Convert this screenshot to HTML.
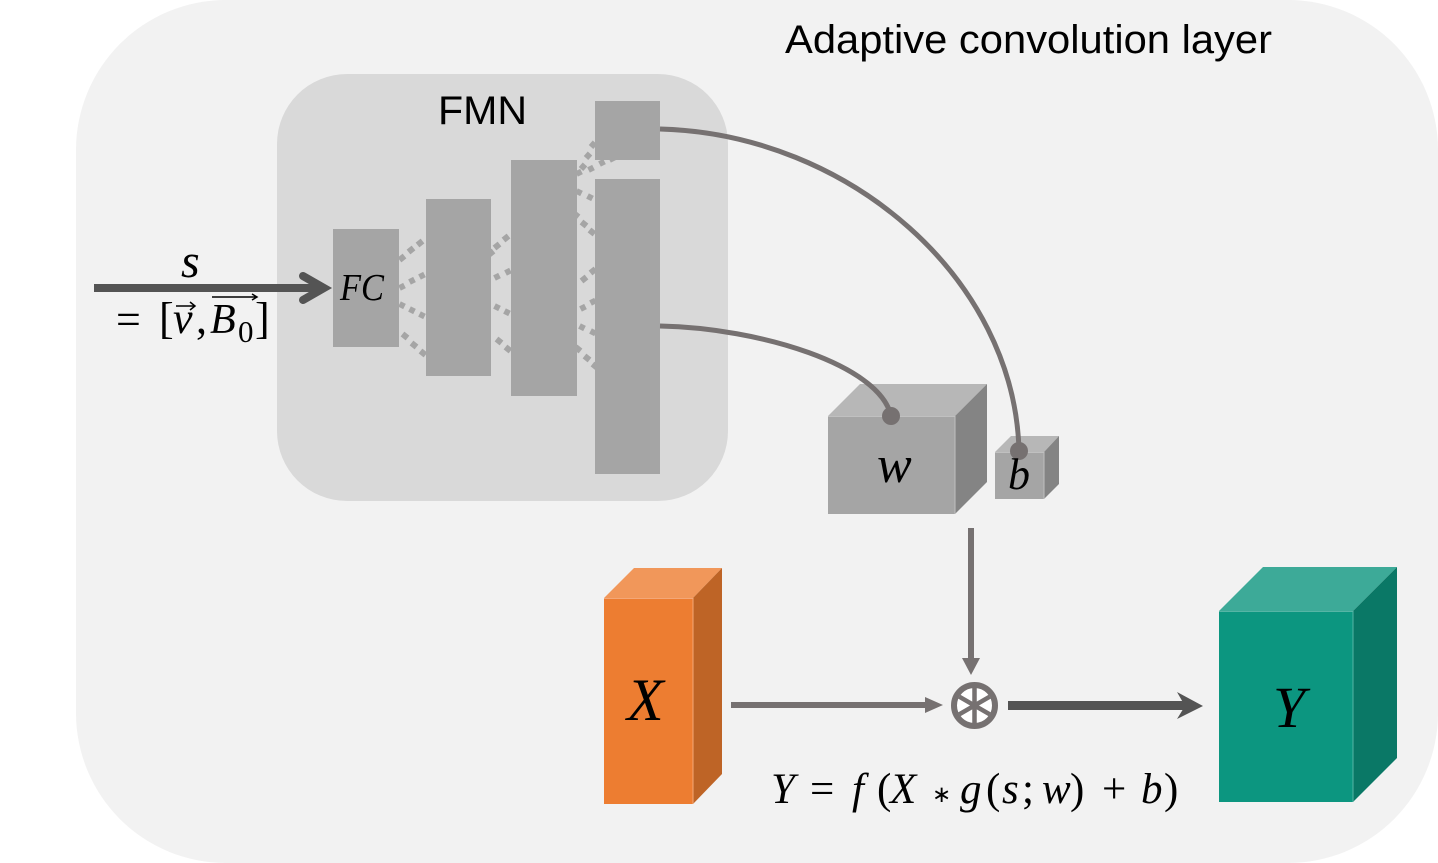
<!DOCTYPE html>
<html><head><meta charset="utf-8"><style>
html,body{margin:0;padding:0;background:#fff;width:1438px;height:863px;overflow:hidden}
svg{display:block}
.m{font-family:"Liberation Serif",serif;font-style:italic;fill:#000}
.r{font-family:"Liberation Serif",serif;fill:#000}
.s{font-family:"Liberation Sans",sans-serif;fill:#000}
</style></head><body>
<svg width="1438" height="863" viewBox="0 0 1438 863" xmlns="http://www.w3.org/2000/svg">
<rect x="76" y="0" width="1362" height="863" rx="150" ry="150" fill="#f2f2f2"/>
<rect x="277" y="74" width="451" height="427" rx="70" ry="70" fill="#d9d9d9"/>
<text class="s" x="785" y="53" font-size="40" textLength="487" lengthAdjust="spacingAndGlyphs">Adaptive convolution layer</text>
<text class="s" x="438" y="124" font-size="40" textLength="89" lengthAdjust="spacingAndGlyphs">FMN</text>
<g fill="none" stroke="#a5a5a5" stroke-width="6">
<path d="M417.500 245l5 -4M408.500 252l5 -4M399.500 260l5 -4"/>
<path d="M419.500 277l5 -2.500M409.500 282l5 -2.500M399.500 288l5 -2.500"/>
<path d="M399.500 304l5 2.500M409.500 309l5 2.500M419.500 314l5 2.500"/>
<path d="M402.500 334l5 4M411.500 343l5 4M420.500 351l5 4"/>
<path d="M503.500 240l5 -4M494.500 248l5 -4M488.500 255l5 -4"/>
<path d="M505.500 273l5 -2.500M494.500 278l5 -2.500"/>
<path d="M494.500 306l5 2.500M504.500 311l5 2.500"/>
<path d="M496.500 339l5 4M505.500 347l5 4"/>
<path d="M591 147l4 -4.500M586 158l4 -4.500M581 169l4 -4.500"/>
<path d="M576.500 174l5 -2.500M588.500 170l5 -2.500M599.500 164l5 -2.500M609.500 160l5 -2.500"/>
<path d="M576.500 191l5 2.500M587.500 196l5 2.500"/>
<path d="M573.500 213l5 4M581.500 222l5 4M589.500 230l5 4"/>
<path d="M590.500 273l5 -4M581.500 281l5 -4"/>
<path d="M590.500 303l5 -2.500M580.500 309l5 -2.500"/>
<path d="M579.500 326l5 2.500M590.500 331l5 2.500"/>
<path d="M575.500 347l5 4M584.500 356l5 4M592.500 364l5 4"/>
</g>
<g fill="#a5a5a5">
<rect x="333" y="229" width="66" height="118"/>
<rect x="426" y="199" width="65" height="177"/>
<rect x="511" y="160" width="66" height="236"/>
<rect x="595" y="179" width="65" height="295"/>
<rect x="595" y="101" width="65" height="59"/>
</g>
<polygon points="828,416 860,384 987,384 955,416" fill="#b7b7b7"/>
<polygon points="955,416 987,384 987,482 955,514" fill="#848484"/>
<rect x="828" y="416" width="127" height="98" fill="#a5a5a5"/>
<path d="M828 416.500H955V514" stroke="#c0c0c0" stroke-width="1" fill="none"/>
<polygon points="995,452 1011,436 1059,436 1044,452" fill="#b7b7b7"/>
<polygon points="1044,452 1059,436 1059,484 1044,499" fill="#848484"/>
<rect x="995" y="452" width="49" height="47" fill="#a5a5a5"/>
<path d="M995 452.500H1044V499" stroke="#c0c0c0" stroke-width="1" fill="none"/>
<polygon points="604,598 634,568 722,568 693,598" fill="#f1975a"/>
<polygon points="693,598 722,568 722,774 693,804" fill="#be6426"/>
<rect x="604" y="598" width="89" height="206" fill="#ed7d31"/>
<path d="M604 598.500H693V804" stroke="#f4a777" stroke-width="1" fill="none"/>
<polygon points="1219,611 1263,567 1397,567 1353,611" fill="#3daa98"/>
<polygon points="1353,611 1397,567 1397,758 1353,802" fill="#0a7866"/>
<rect x="1219" y="611" width="134" height="191" fill="#0c9680"/>
<path d="M1219 611.500H1353V802" stroke="#55b5a5" stroke-width="1" fill="none"/>
<g fill="none" stroke="#767171" stroke-width="5">
<path d="M660 129C850 134 1015 280 1019 451"/>
<path d="M660 326C760 328 880 365 891 416"/>
</g>
<circle cx="891" cy="416" r="9" fill="#767171"/>
<circle cx="1019" cy="451" r="9" fill="#767171"/>
<path d="M94 288H322" stroke="#545454" stroke-width="8" fill="none"/>
<path d="M303 276L324 288L303 300" stroke="#545454" stroke-width="8" fill="none" stroke-linecap="round" stroke-linejoin="miter"/>
<path d="M971 528V660" stroke="#767171" stroke-width="6"/>
<polygon points="962,658 980,658 971,675" fill="#767171"/>
<path d="M731 705H928" stroke="#767171" stroke-width="6"/>
<polygon points="925,697 943,705 925,713" fill="#767171"/>
<path d="M1008 705.500H1186" stroke="#545454" stroke-width="9"/>
<polygon points="1177,692 1203,706 1177,719 1185,706" fill="#545454"/>
<circle cx="974.500" cy="705.500" r="20.500" fill="#fff" stroke="#767171" stroke-width="6"/>
<g stroke="#767171" stroke-width="4.500">
<path d="M974.500 688V723M959.300 696.700L989.700 714.300M959.300 714.300L989.700 696.700"/>
</g>
<text class="m" x="181" y="277" font-size="48">s</text>
<text class="r" x="116" y="334" font-size="44">=</text>
<text class="r" x="159" y="333" font-size="44">[</text>
<text class="m" x="173" y="333" font-size="44">v</text>
<text class="r" x="196" y="333" font-size="44">,</text>
<text class="m" x="210" y="333" font-size="42">B</text>
<text class="r" x="238" y="342" font-size="31">0</text>
<text class="r" x="255" y="333" font-size="44">]</text>
<path d="M176 306H195M190 302L195 306L190 310" stroke="#000" stroke-width="1.500" fill="none"/>
<path d="M212 297H257M252 294L257 297L252 300" stroke="#000" stroke-width="1.500" fill="none"/>
<text class="m" x="340" y="300" font-size="38" textLength="44" lengthAdjust="spacingAndGlyphs">FC</text>
<text class="m" x="877" y="482" font-size="52">w</text>
<text class="m" x="1008" y="489" font-size="44">b</text>
<text class="m" x="627" y="720" font-size="60">X</text>
<text class="m" x="1273" y="727" font-size="58">Y</text>
<text class="m" x="771" y="803" font-size="43">Y</text>
<text class="r" x="810" y="803" font-size="43">=</text>
<text class="m" x="852" y="803" font-size="43">f</text>
<text class="r" x="877" y="803" font-size="43">(</text>
<text class="m" x="890" y="803" font-size="43">X</text>
<text class="r" x="932" y="802" font-size="23">∗</text>
<text class="m" x="960" y="803" font-size="43">g</text>
<text class="r" x="986" y="803" font-size="43">(</text>
<text class="m" x="1002" y="803" font-size="43">s</text>
<text class="r" x="1022" y="803" font-size="43">;</text>
<text class="m" x="1042" y="803" font-size="43">w</text>
<text class="r" x="1070" y="803" font-size="43">)</text>
<text class="r" x="1102" y="803" font-size="43">+</text>
<text class="m" x="1141" y="803" font-size="43">b</text>
<text class="r" x="1164" y="803" font-size="43">)</text>
</svg>
</body></html>
